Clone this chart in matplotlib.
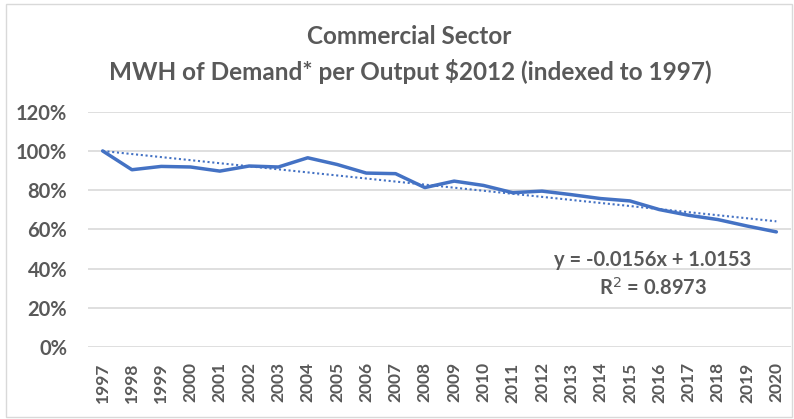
import numpy as np
import matplotlib
matplotlib.use("Agg")
import matplotlib.pyplot as plt
from matplotlib.patches import Rectangle
from matplotlib.ticker import FuncFormatter

years = [str(y) for y in range(1997, 2021)]
index_pct = [100.0, 90.4, 92.1, 91.8, 89.7, 92.3, 91.8, 96.5, 93.1, 88.7, 88.4, 81.3,
             84.6, 82.4, 78.7, 79.5, 77.7, 75.7, 74.5, 70.1, 67.2, 65.0, 61.7, 58.7]
trend_slope = -0.0156
trend_icept = 1.0153
eq_text = "y = -0.0156x + 1.0153"
r2_text = "R$^2$ = 0.8973"

plt.rcParams['font.family'] = ['Lato', 'DejaVu Sans']
grey = '#595959'
blue = '#4472C4'

fig = plt.figure(figsize=(7.94, 4.19), dpi=100)
ax = fig.add_axes([88/794, 1-347/419, (791-88)/794, (347-111.7)/419])

x = np.arange(len(years))
vals = np.array(index_pct) / 100
ax.plot(x, vals, color=blue, lw=2.5, solid_capstyle='round', zorder=3)
xt = x + 1
ax.plot(x, trend_slope * xt + trend_icept, color=blue, lw=1.5, ls=(0, (1, 1.3)), zorder=3)

ax.set_xlim(-0.5, len(years) - 0.5)
ax.set_ylim(0, 1.2)
ax.set_yticks(np.arange(0, 1.21, 0.2))
ax.yaxis.set_major_formatter(FuncFormatter(lambda v, p: "%d%%" % round(v * 100)))
ax.set_xticks(x)
ax.set_xticklabels(years, rotation=90)
ax.grid(axis='y', color='#d9d9d9', lw=1.2)
ax.set_axisbelow(True)
for s in ax.spines.values():
    s.set_visible(False)
ax.tick_params(length=0, colors=grey)
for lab in ax.get_yticklabels():
    lab.set_fontsize(14.5)
    lab.set_fontweight('bold')
for lab in ax.get_xticklabels():
    lab.set_fontsize(12.5)
    lab.set_fontweight('bold')
ax.tick_params(axis='y', pad=15)
ax.tick_params(axis='x', pad=11)

fig.text(409/794, 1-37/419, "Commercial Sector", ha='center', va='center',
         fontsize=17.5, fontweight='bold', color=grey)
fig.text(410/794, 1-72/419, "MWH of Demand* per Output $2012 (indexed to 1997)", ha='center',
         va='center', fontsize=17.5, fontweight='bold', color=grey)
fig.text(653/794, 1-260/419, eq_text, ha='center', va='center', fontsize=14.5,
         fontweight='bold', color=grey)
fig.text(653/794, 1-288/419, r2_text, ha='center', va='center', fontsize=14.5,
         fontweight='bold', color=grey)

fig.patches.append(Rectangle((6/794, 2/419), 786/794, 413/419, transform=fig.transFigure,
                             fill=False, edgecolor='#d9d9d9', lw=1))

fig.savefig("out.png", dpi=100)
